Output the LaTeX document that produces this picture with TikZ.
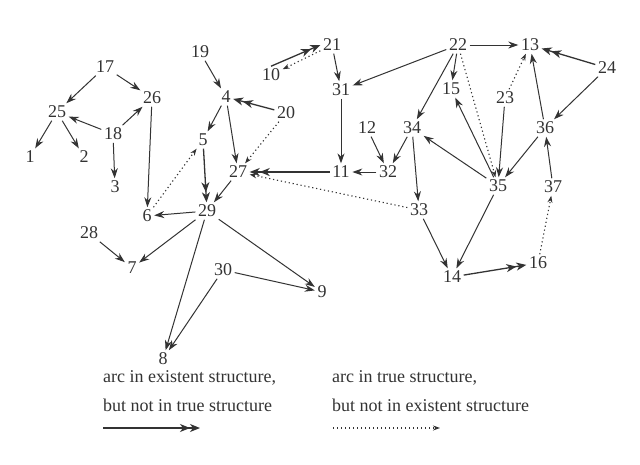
\documentclass[tikz,border=0pt]{standalone}
\usepackage{fontspec}
\setmainfont{Liberation Serif}
\usetikzlibrary{arrows.meta}
\definecolor{ink}{gray}{0.2}
\begin{document}
\begin{tikzpicture}[x=1pt,y=-1pt,
  lbl/.style={inner sep=2.5pt, text=ink, font=\fontsize{18}{20}\selectfont},
  leg/.style={inner sep=0pt, anchor=west, text=ink, font=\fontsize{18}{20}\selectfont},
  arc/.style={draw=ink, line width=1pt, -{Stealth[length=10pt,width=7pt]}},
  extra/.style={draw=ink, line width=1.3pt, -{Stealth[length=10pt,width=8pt,inset=3pt]Stealth[length=10pt,width=8pt,inset=3pt]}},
  miss/.style={draw=ink, line width=1.1pt, dash pattern=on 1.2pt off 2.8pt, -{Stealth[length=7pt,width=5pt]}}]
\fill[white] (0,0) rectangle (640,464);
\useasboundingbox (0,0) rectangle (640,464);
% nodes
\node[lbl] (n1) at (30,157) {1};
\node[lbl] (n2) at (84,157) {2};
\node[lbl] (n3) at (115,187) {3};
\node[lbl] (n4) at (226,97) {4};
\node[lbl] (n5) at (203,140) {5};
\node[lbl] (n6) at (147,216) {6};
\node[lbl] (n7) at (132,268) {7};
\node[lbl] (n8) at (163,359) {8};
\node[lbl] (n9) at (322,292) {9};
\node[lbl] (n10) at (271,75) {10};
\node[lbl] (n11) at (341,172) {11};
\node[lbl] (n12) at (367,128) {12};
\node[lbl] (n13) at (530,45) {13};
\node[lbl] (n14) at (452,277) {14};
\node[lbl] (n15) at (451,89) {15};
\node[lbl] (n16) at (538,263) {16};
\node[lbl] (n17) at (105,67) {17};
\node[lbl] (n18) at (113,134) {18};
\node[lbl] (n19) at (200,52) {19};
\node[lbl] (n20) at (286,113) {20};
\node[lbl] (n21) at (332,45) {21};
\node[lbl] (n22) at (458,45) {22};
\node[lbl] (n23) at (505,98) {23};
\node[lbl] (n24) at (607,68) {24};
\node[lbl] (n25) at (57,112) {25};
\node[lbl] (n26) at (152,98) {26};
\node[lbl] (n27) at (238,172) {27};
\node[lbl] (n28) at (89,233) {28};
\node[lbl] (n29) at (207,211) {29};
\node[lbl] (n30) at (223,270) {30};
\node[lbl] (n31) at (341,90) {31};
\node[lbl] (n32) at (388,172) {32};
\node[lbl] (n33) at (419,210) {33};
\node[lbl] (n34) at (412,128) {34};
\node[lbl] (n35) at (498,186) {35};
\node[lbl] (n36) at (545,128) {36};
\node[lbl] (n37) at (553,187) {37};
% arcs in both structures
\foreach \a/\b in {17/25,17/26,18/25,18/26,18/3,25/1,25/2,26/6,4/5,4/27,19/4,27/29,32/11,29/6,29/7,28/7,29/8,29/9,30/8,30/9,21/31,22/31,31/11,12/32,34/32,22/34,22/15,22/13,35/15,35/34,34/33,23/35,36/13,24/36,36/35,37/36,35/14,33/14}
  \draw[arc] (n\a) -- (n\b);
% arcs in existent structure only
\foreach \a/\b in {5/29,20/4,11/27,24/13,14/16}
  \draw[extra] (n\a) -- (n\b);
\draw[extra] (n10.north) -- (n21.west);
% arcs in true structure only
\foreach \a/\b in {6/5,20/27,33/27,21/10,22/35,23/13,16/37}
  \draw[miss] (n\a) -- (n\b);
% legend
\node[leg] (l1) at (103,378) {arc in existent structure,};
\node[leg] (l2) at (103,405) {but not in true structure};
\node[leg] (l3) at (332,378) {arc in true structure,};
\node[leg] (l4) at (332,405) {but not in existent structure};
\coordinate (la) at (103,428);
\coordinate (lb) at (200,428);
\coordinate (lc) at (333,428);
\coordinate (ld) at (440,428);
\draw[extra] (la) -- (lb);
\draw[miss] (lc) -- (ld);
\end{tikzpicture}
\end{document}
